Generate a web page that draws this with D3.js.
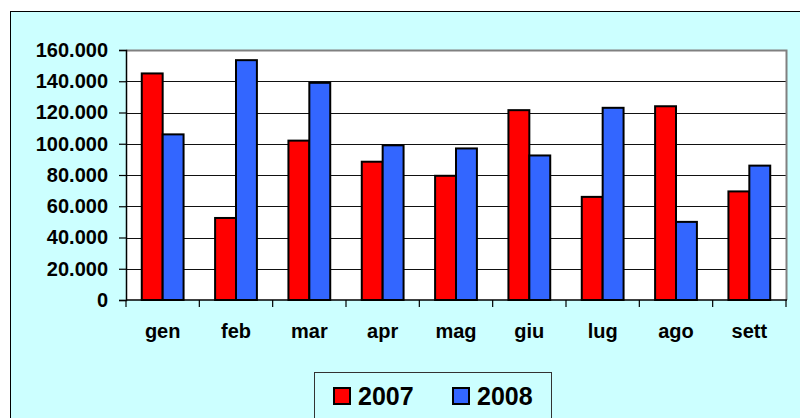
<!DOCTYPE html>
<html><head><meta charset="utf-8">
<script src="https://cdn.jsdelivr.net/npm/d3@7"></script>
<style>html,body{margin:0;padding:0;background:#fff;}svg{display:block;font-family:"Liberation Sans",Arial,sans-serif;font-weight:bold;}</style>
</head><body>
<svg id="c" width="800" height="418"></svg>
<script>
const categories = ["gen","feb","mar","apr","mag","giu","lug","ago","sett"];
const series2007 = [145000, 52500, 102000, 88500, 79500, 121500, 66000, 124000, 69500];
const series2008 = [106000, 153500, 139000, 99000, 97000, 92500, 123000, 50000, 86000];
const seriesNames = ["2007","2008"];
const yTicks = [0,20000,40000,60000,80000,100000,120000,140000,160000];

const colors = ["#ff0000","#3366ff"];
const svg = d3.select("#c");
svg.append("rect").attr("x",10.5).attr("y",11.5).attr("width",800).attr("height",420)
  .attr("fill","#ccffff").attr("stroke","#000").attr("stroke-width",1);

const L=126, R=786, T=50, B=300;
svg.append("rect").attr("x",L).attr("y",T).attr("width",R-L).attr("height",B-T).attr("fill","#fff");

const x0 = d3.scaleBand().domain(categories).range([L,R]).paddingInner(0.43).paddingOuter(0.215);
const xOuter = d3.scaleBand().domain(categories).range([L,R]).padding(0);
const x1 = d3.scaleBand().domain(seriesNames).range([0,x0.bandwidth()]);
const y = d3.scaleLinear().domain([0,160000]).range([B,T]);

// gridlines
svg.append("g").selectAll("line").data(yTicks.filter(d=>d>0 && d<160000)).join("line")
  .attr("x1",L).attr("x2",R).attr("y1",d=>Math.round(y(d))+0.5).attr("y2",d=>Math.round(y(d))+0.5)
  .attr("stroke","#111").attr("stroke-width",1);
// plot border top/right gray
svg.append("path").attr("d",`M${L},${T+0.5}H${R+0.5}V${B}`).attr("fill","none").attr("stroke","#808080").attr("stroke-width",2);

// bars
const data = categories.map((c,i)=>({c, vals:[series2007[i],series2008[i]]}));
const g = svg.append("g");
data.forEach(d=>{
  d.vals.forEach((v,j)=>{
    g.append("rect")
      .attr("x",x0(d.c)+x1(seriesNames[j]))
      .attr("y",y(v))
      .attr("width",x1.bandwidth())
      .attr("height",y(0)-y(v))
      .attr("fill",colors[j]).attr("stroke","#000").attr("stroke-width",2);
  });
});

// y axis
const yAxis = d3.axisLeft(y).tickValues(yTicks).tickSize(7).tickPadding(11)
  .tickFormat(d=>d3.format(",")(d).replace(/,/g,"."));
const ya = svg.append("g").attr("transform",`translate(${L},0)`).call(yAxis);
ya.select(".domain").attr("stroke","#000").attr("stroke-width",1.5);
ya.selectAll(".tick line").attr("stroke","#000").attr("stroke-width",1.2);
ya.selectAll("text").attr("font-size",20).attr("font-weight","bold").attr("fill","#000")
  .attr("font-family","Liberation Sans, Arial, sans-serif");

// x axis
const xa = svg.append("g").attr("transform",`translate(0,${B})`);
xa.append("line").attr("x1",L).attr("x2",R+1).attr("y1",0).attr("y2",0).attr("stroke","#000").attr("stroke-width",1.5);
const bounds = categories.map(c=>xOuter(c)).concat([R]);
xa.selectAll("line.tk").data(bounds).join("line").attr("class","tk")
  .attr("x1",d=>d).attr("x2",d=>d).attr("y1",0).attr("y2",7).attr("stroke","#000").attr("stroke-width",1.2);
xa.selectAll("text").data(categories).join("text")
  .attr("x",d=>xOuter(d)+xOuter.bandwidth()/2).attr("y",38)
  .attr("text-anchor","middle").attr("font-size",20).attr("fill","#000").text(d=>d);

// legend
const lg = svg.append("g");
lg.append("rect").attr("x",314.5).attr("y",372.5).attr("width",237).attr("height",60)
  .attr("fill","#ccffff").attr("stroke","#333").attr("stroke-width",1);
const legX = [334, 453];
seriesNames.forEach((n,i)=>{
  lg.append("rect").attr("x",legX[i]).attr("y",388).attr("width",16).attr("height",16)
    .attr("fill",colors[i]).attr("stroke","#000").attr("stroke-width",2);
  lg.append("text").attr("x",legX[i]+24).attr("y",405).attr("font-size",25).attr("fill","#000").text(n);
});
</script>
</body></html>
